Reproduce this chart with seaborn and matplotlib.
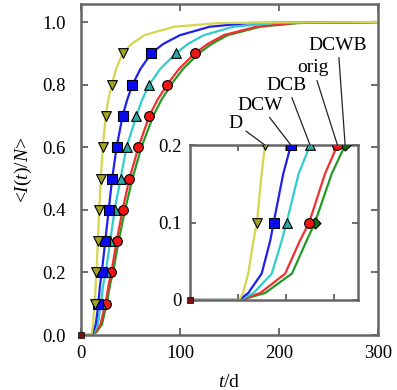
import numpy as np
import pandas as pd
import matplotlib
matplotlib.use('Agg')
import matplotlib.pyplot as plt
import seaborn as sns

# curve points (t in days, fraction infected)
levels = [0, 0, 0.009, 0.034, 0.077, 0.1, 0.163, 0.2, 0.3, 0.4, 0.5, 0.6, 0.7, 0.75, 0.8, 0.85, 0.9,
          0.93, 0.958, 0.985, 0.997, 1.0]
t_D = [0, 10.2, 11.0, 12.1, 13.2, 13.9, 14.9, 15.6, 17.0, 18.4, 20, 22, 25, 27.5, 31, 35.5, 42,
       51, 64, 94, 140, 300]
t_DCW = [0, 10.2, 12.1, 14.9, 16.7, 17.4, 19.4, 21.0, 24.5, 28, 31.5, 36, 42, 46.5, 52, 60, 71,
         83, 100, 130, 170, 300]
t_DCB = [0, 10.3, 13.2, 17.0, 19.1, 20.1, 22.6, 25.0, 29.5, 34, 40, 46, 56, 61.5, 69, 80, 96,
         108, 124, 154, 195, 300]
t_orig = [0, 10.4, 14.6, 19.8, 22.9, 24.8, 28.1, 30.7, 36, 42, 49, 58, 69, 77, 87, 99, 115,
          128, 144, 177, 215, 300]
t_DCWB = [0, 10.5, 15.6, 21.2, 24.3, 26.0, 29.5, 32.3, 38, 44.5, 52, 61, 73, 81, 91, 103, 119,
          132, 148, 181, 220, 300]

series = ['DCWB', 'orig', 'DCB', 'DCW', 'D']
marker_levels = [0.1, 0.2, 0.3, 0.4, 0.5, 0.6, 0.7, 0.8, 0.9]

line_colors = {'D': '#d6d64c', 'DCW': '#2020ee', 'DCB': '#33cccc', 'orig': '#ee3030', 'DCWB': '#239a23'}
fill_colors = {'D': '#a4a424', 'DCW': '#0a0aee', 'DCB': '#30a8a8', 'orig': '#ee1515', 'DCWB': '#136a13'}
marker_shapes = {'D': 'v', 'DCW': 's', 'DCB': '^', 'orig': 'o', 'DCWB': 'D'}

curves = pd.concat([
    pd.DataFrame({'series': name, 't': tt, 'I': levels})
    for name, tt in zip(series, [t_DCWB, t_orig, t_DCB, t_DCW, t_D])
], ignore_index=True)
marks = curves[curves['I'].isin(marker_levels)]

plt.rcParams['font.family'] = ['Liberation Serif', 'DejaVu Serif']
plt.rcParams['mathtext.fontset'] = 'custom'
plt.rcParams['mathtext.rm'] = 'Liberation Serif'
plt.rcParams['mathtext.it'] = 'Liberation Serif:italic'

fig = plt.figure(figsize=(3.97, 3.90), dpi=100)
ax = fig.add_axes([0.204, 0.141, 0.748, 0.849])
ax_in = fig.add_axes([0.479, 0.2308, 0.423, 0.397])


def draw(a, ms, with_dcwb_marks):
    sns.lineplot(data=curves, x='t', y='I', hue='series', hue_order=series, palette=line_colors,
                 estimator=None, sort=False, lw=1.6, legend=False, ax=a)
    for name in series:
        if name == 'DCWB' and not with_dcwb_marks:
            continue
        sub = marks[marks['series'] == name]
        size = ms * 0.8 if name == 'DCWB' else ms
        sns.scatterplot(data=sub, x='t', y='I', marker=marker_shapes[name], color=fill_colors[name],
                        s=size ** 2, edgecolor='black', linewidth=0.8, legend=False, ax=a, zorder=3)
    a.plot([0], [0], marker='s', ms=5, color='#7a1010', mec='black', mew=0.5, clip_on=False, zorder=4)
    for side in a.spines.values():
        side.set_color('#666666')
        side.set_linewidth(1.8)
    a.tick_params(direction='in', top=True, right=True, length=5, width=1.2, color='#555555',
                  labelsize=13.5)
    a.set_xlabel('')
    a.set_ylabel('')


draw(ax, 7, False)
ax.set_xlim(0, 300)
ax.set_ylim(0, 1.058)
ax.set_xticks([0, 100, 200, 300])
ax.set_yticks([0.0, 0.2, 0.4, 0.6, 0.8, 1.0])
ax.set_yticklabels(['0.0', '0.2', '0.4', '0.6', '0.8', '1.0'])
ax.tick_params(axis='y', pad=11)
ax.tick_params(axis='x', pad=7)
ax.set_xlabel(r'$\it{t}$/d', fontsize=14, labelpad=9)
ax.set_ylabel(r'<$\it{I}$($\it{t}$)/$\it{N}$>', fontsize=14, labelpad=6)

draw(ax_in, 7, True)
ax_in.set_xlim(0, 35)
ax_in.set_ylim(0, 0.2)
ax_in.set_xticks([10, 20, 30])
ax_in.set_xticklabels([])
ax_in.set_yticks([0, 0.1, 0.2])
ax_in.set_yticklabels(['0', '0.1', '0.2'])
ax_in.tick_params(length=4, pad=6)

# labels pointing at the inset's top edge
label_names = ['D', 'DCW', 'DCB', 'orig', 'DCWB']
label_t = [t_D[7], t_DCW[7], t_DCB[7], t_orig[7], t_DCWB[7]]
label_pos = [(235, 267), (260, 285), (287, 305), (313, 322), (338, 345)]
for name, tx, pos in zip(label_names, label_t, label_pos):
    ax_in.annotate(name, xy=(tx, 0.2), xytext=pos, textcoords='figure pixels',
                   ha='center', va='center', fontsize=14, annotation_clip=False,
                   arrowprops=dict(arrowstyle='-', color='#222222', lw=0.9, shrinkA=1, shrinkB=0))

fig.savefig('out.png', dpi=100)
